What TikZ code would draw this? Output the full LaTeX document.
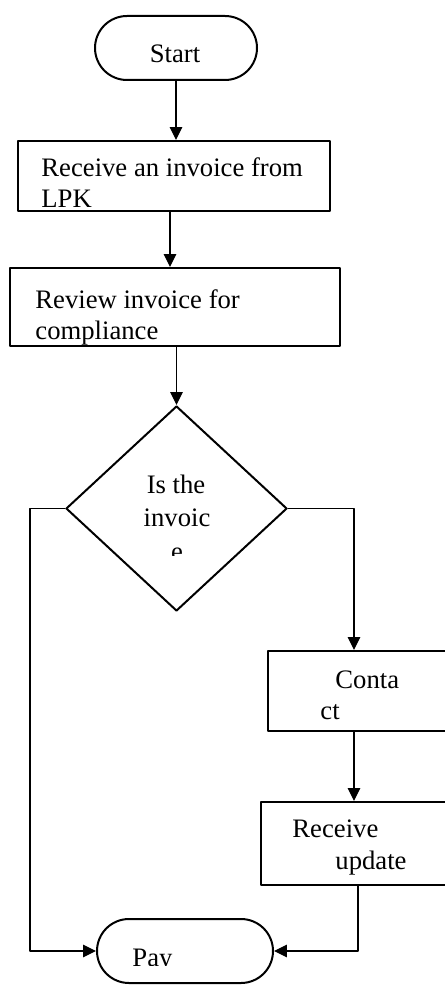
\documentclass[tikz,border=0pt]{standalone}
\usepackage{fontspec}
\setmainfont{Liberation Serif}
\usetikzlibrary{positioning}
\usetikzlibrary{shapes}
\usetikzlibrary{calc}
\usetikzlibrary{arrows.meta}

\newcommand{\pxu}{0.45pt}

\begin{document}
\begin{tikzpicture}[x=0.45pt,y=-0.45pt,line cap=round,line join=round,>={Triangle[length=5.8pt,width=5.6pt]},
  boite/.style={draw,line width=0.9pt,rectangle,anchor=north west,inner sep=0pt},
  terminal/.style={boite,rounded corners=32*\pxu,minimum width=#1*\pxu,minimum height=64*\pxu},
  losange/.style={draw,line width=0.9pt,diamond,inner sep=0pt,minimum width=221*\pxu,minimum height=205*\pxu},
  fleche/.style={line width=0.55pt,->},
  texte/.style={inner sep=0pt,anchor=base west,font=\fontsize{12}{14}\selectfont},
  textec/.style={texte,anchor=base}]
\useasboundingbox (0,0) rectangle (445,985);
\clip (0,0) rectangle (445,985);
% blocs
\node[terminal=162] (debut) at (94,15) {};
\node[boite,minimum width=312*\pxu,minimum height=70*\pxu] (recep) at (17,140) {};
\node[boite,minimum width=330*\pxu,minimum height=78*\pxu] (revue) at (9,267) {};
\node[losange] (test) at (176.5,508.5) {};
\node[boite,minimum width=250*\pxu,minimum height=80*\pxu] (contact) at (267,650) {};
\node[boite,minimum width=250*\pxu,minimum height=83*\pxu] (maj) at (260,801) {};
\node[terminal=176] (payer) at (96,918) {};
% textes
\node[textec] (tdebut) at (175,63) {Start};
\node[texte] (trecep1) at (41,176) {Receive an invoice from};
\node[texte] (trecep2) at (41,207) {LPK};
\node[texte] (trevue1) at (35,308) {Review invoice for};
\node[texte] (trevue2) at (35,339) {compliance};
\node[textec] (ttest1) at (176,493) {Is the};
\node[textec] (ttest2) at (177,526) {invoic};
\begin{scope}
\clip (150,535) rectangle (205,555);
\node[textec] (ttest3) at (177,560) {e};
\end{scope}
\node[texte] (tcontact1) at (335,688) {Conta};
\node[texte] (tcontact2) at (320,719) {ct};
\node[texte] (tmaj1) at (292,837) {Receive};
\node[texte] (tmaj2) at (335,869) {update};
\begin{scope}
\clip (120,930) rectangle (190,965);
\node[texte] (tpayer) at (132,966) {Pay};
\end{scope}
% fleches
\draw[fleche] (debut.south) -- (debut.south |- recep.north);
\draw[fleche] ($(recep.south west)+(153,0)$) -- ($(revue.north west)+(161,0)$);
\draw[fleche] (test.north |- revue.south) -- (test.north);
\draw[fleche] (test.west) -- ++(-35,0) |- (payer.west);
\draw[fleche] (test.east) -| ($(contact.north west)+(87,0)$);
\draw[fleche] ($(contact.south west)+(87,0)$) -- ($(maj.north west)+(94,0)$);
\draw[fleche] ($(maj.south west)+(98,0)$) |- (payer.east);
\end{tikzpicture}
\end{document}
